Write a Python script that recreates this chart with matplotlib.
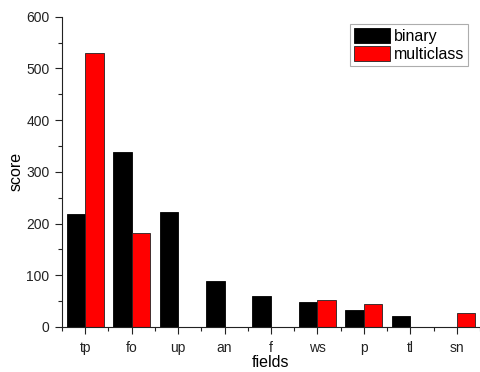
"""Grouped bar chart of binary vs multiclass scores per field."""

import matplotlib
matplotlib.use("Agg")
import matplotlib.pyplot as plt
import numpy as np

FIELDS = ["tp", "fo", "up", "an", "f", "ws", "p", "tl", "sn"]
BINARY = [218, 339, 222, 88, 60, 48, 32, 22, 0]
MULTICLASS = [529, 182, 0, 0, 0, 52, 44, 0, 27]

plt.rcParams["font.family"] = ["Liberation Sans", "DejaVu Sans"]

W, H = 481, 372
fig = plt.figure(figsize=(W / 100, H / 100), dpi=100)
ax = fig.add_axes([62 / W, 45 / H, (480 - 62) / W, (327 - 16.7) / H])

x = np.arange(1, len(FIELDS) + 1)
width = 0.4
ax.bar(x - width / 2, BINARY, width, color="black", edgecolor="black",
       linewidth=0.6, label="binary")
ax.bar(x + width / 2, MULTICLASS, width, color="#ff0000", edgecolor="#222222",
       linewidth=0.6, label="multiclass")

ax.set_xlim(0.5, len(FIELDS) + 0.5)
ax.set_ylim(0, 600)
ax.set_xticks(x)
ax.set_xticklabels(FIELDS)
ax.set_xticks(np.arange(0.5, len(FIELDS) + 1, 1.0), minor=True)
ax.set_yticks(np.arange(0, 601, 100))
ax.set_yticks(np.arange(50, 600, 100), minor=True)
ax.tick_params(axis="both", which="major", direction="out", length=5,
               width=0.8, labelsize=10, colors="#222222")
ax.tick_params(axis="x", which="major", pad=5)
ax.tick_params(axis="y", which="major", pad=4)
ax.tick_params(axis="both", which="minor", direction="out", length=3,
               width=0.8, colors="#222222")

for side in ("top", "right"):
    ax.spines[side].set_visible(False)
for side in ("left", "bottom"):
    ax.spines[side].set_linewidth(0.8)
    ax.spines[side].set_color("#222222")

ax.set_ylabel("score", fontsize=11.5, labelpad=2)
ax.set_xlabel("fields", fontsize=11.5, labelpad=0)

leg = ax.legend(loc="upper right", bbox_to_anchor=(468 / W, 1 - 24 / H),
                bbox_transform=fig.transFigure, fontsize=11.5, frameon=True,
                fancybox=False, edgecolor="#999999", borderpad=0.25,
                labelspacing=0.15, handlelength=2.25, handleheight=1.05,
                handletextpad=0.25, borderaxespad=0)
leg.get_frame().set_linewidth(0.8)

fig.savefig("out.png", dpi=100)
